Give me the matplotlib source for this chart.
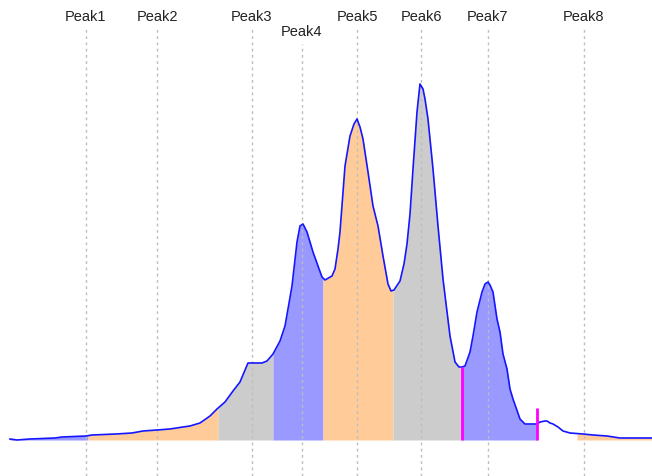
import numpy as np
import matplotlib
matplotlib.use("Agg")
import matplotlib.pyplot as plt

# Detector trace: position vs. signal height above baseline
pos = [10, 17, 30, 55, 62, 86, 92, 116, 132, 143, 157, 170, 183, 190, 200, 210,
       217, 225, 233, 240, 248, 262, 267, 273, 280, 285, 288, 292, 297, 300, 303,
       307, 313, 318, 322, 325, 332, 335, 338, 340, 345, 350, 354, 357, 360, 363,
       368, 373, 378, 383, 388, 391, 394, 400, 404, 407, 410, 413, 417, 420, 423,
       425, 428, 433, 438, 443, 450, 455, 459, 462, 465, 470, 473, 477, 482, 485,
       488, 490, 493, 497, 500, 503, 507, 510, 513, 520, 525, 537, 540, 545, 547,
       550, 553, 558, 563, 570, 583, 593, 607, 620, 652]
signal = [1, 0, 1, 2, 3, 4, 5, 6, 7, 9, 10, 11, 13, 14, 17, 24,
          31, 38, 49, 58, 77, 77, 79, 86, 99, 114, 131, 154, 198, 214, 216,
          208, 188, 174, 163, 160, 164, 171, 191, 208, 274, 304, 316, 321, 313, 301,
          268, 234, 214, 184, 156, 149, 150, 159, 176, 196, 226, 271, 328, 356, 351,
          341, 321, 271, 214, 161, 104, 78, 73, 73, 74, 88, 104, 128, 148, 156,
          158, 155, 148, 121, 108, 86, 71, 51, 41, 21, 16, 16, 18, 19, 19,
          17, 16, 13, 9, 7, 6, 5, 4, 2, 2]

# Peak names and apex positions
peak_names = ["Peak1", "Peak2", "Peak3", "Peak4", "Peak5", "Peak6", "Peak7", "Peak8"]
peak_pos = [86, 157, 252, 302, 357, 421, 488, 584]
label_level = [424, 424, 424, 409, 424, 424, 424, 424]
guide_top = [411, 411, 411, 396, 414, 414, 414, 414]

# Integration windows (start, end) for each peak and their fill colours
win_start = [10, 88, 218, 273, 323, 393, 462, 577]
win_end = [88, 218, 273, 323, 393, 462, 537, 652]
win_color = ["#9999FF", "#FFCC99", "#CCCCCC", "#9999FF",
             "#FFCC99", "#CCCCCC", "#9999FF", "#FFCC99"]

# Manual split markers
split_pos = [462, 537]
split_top = [73, 32]

x = np.array(pos, dtype=float)
y = np.array(signal, dtype=float)

fig = plt.figure(figsize=(6.52, 4.77), dpi=100)
ax = fig.add_axes([0, 0, 1, 1])
ax.set_xlim(0, 652)
ax.set_ylim(-36, 441)
ax.axis("off")

for a, b, c in zip(win_start, win_end, win_color):
    inside = (x > a) & (x < b)
    sx = np.concatenate([[a], x[inside], [b]])
    sy = np.concatenate([[np.interp(a, x, y)], y[inside], [np.interp(b, x, y)]])
    ax.fill_between(sx, 0, sy, color=c, linewidth=0, zorder=1)

for p, top in zip(peak_pos, guide_top):
    ax.plot([p, p], [-36, top], color="#BDBDBD", lw=1.0,
            linestyle=(0, (2, 2.5)), zorder=2)

ax.plot(x, y, color="#1515FF", lw=1.2, zorder=3)

for p, top in zip(split_pos, split_top):
    ax.plot([p, p], [0, top], color="#FF00FF", lw=2.0, zorder=4,
            solid_capstyle="butt")

for name, p, lv in zip(peak_names, peak_pos, label_level):
    ax.text(p, lv, name, ha="center", va="center", fontsize=10.5,
            family=["Liberation Sans", "DejaVu Sans"], color="#222222", zorder=5)

fig.savefig("out.png", dpi=100)
